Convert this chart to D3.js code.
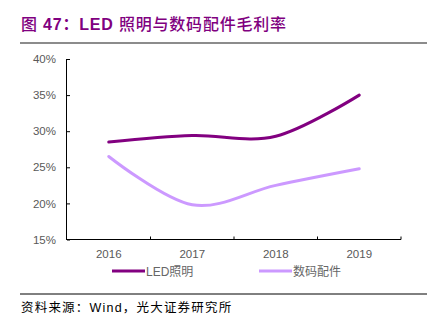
<!DOCTYPE html>
<html>
<head>
<meta charset="utf-8">
<script src="https://cdn.jsdelivr.net/npm/d3@7/dist/d3.min.js"></script>
<style>
  body { margin: 0; background: #fff; }
  svg { display: block; font-family: Arial, "Liberation Sans", "Noto Sans CJK SC", sans-serif; }
</style>
</head>
<body>
<div id="chart"></div>
<script>
const years = ['2016', '2017', '2018', '2019'];
const ledValues = [28.5, 29.4, 29.3, 35.0];
const digitalValues = [26.5, 19.8, 22.5, 24.8];
const yTicks = [15, 20, 25, 30, 35, 40];
const seriesNames = ['LED照明', '数码配件'];
const seriesColors = ['#820080', '#cc99ff'];

const width = 436, height = 324;
const svg = d3.select('#chart').append('svg')
    .attr('width', width)
    .attr('height', height);

// title: latin parts bold, CJK lighter
const titleParts = [['图 ', 500], ['47：LED ', 700], ['照明与数码配件毛利率', 500]];
const title = svg.append('text')
    .attr('x', 21).attr('y', 30)
    .attr('fill', '#800080')
    .attr('font-size', 16)
    .attr('letter-spacing', 0.8);
title.selectAll('tspan')
    .data(titleParts)
    .enter().append('tspan')
    .attr('font-weight', d => d[1])
    .text(d => d[0]);
svg.append('line')
    .attr('x1', 20).attr('x2', 427).attr('y1', 43).attr('y2', 43)
    .attr('stroke', '#8c8c8c').attr('stroke-width', 2);

const plot = { left: 67, right: 401, top: 59, bottom: 239.5 };

const x = d3.scaleBand().domain(years).range([plot.left, plot.right]);
const y = d3.scaleLinear().domain([15, 40]).range([plot.bottom, plot.top]);

// y axis
const yAxis = svg.append('g')
    .attr('transform', `translate(${plot.left},0)`)
    .call(d3.axisLeft(y).tickValues(yTicks).tickSize(-3).tickPadding(11).tickFormat(d => d + '%'));
yAxis.select('.domain').attr('d', `M-0.5,${plot.top}V${plot.bottom}`).attr('stroke', '#000');
yAxis.selectAll('.tick line').attr('stroke', '#000');
yAxis.selectAll('.tick text').attr('fill', '#595959').attr('font-size', 11.5).attr('font-family', 'Arial, "Liberation Sans"');

// x axis, ticks at category boundaries pointing inward
const xAxis = svg.append('g')
    .attr('transform', `translate(0,${plot.bottom})`);
xAxis.append('line')
    .attr('x1', plot.left - 1).attr('x2', plot.right)
    .attr('stroke', '#000');
xAxis.selectAll('.bt')
    .data(years)
    .enter().append('line')
    .attr('x1', d => x(d) + x.bandwidth())
    .attr('x2', d => x(d) + x.bandwidth())
    .attr('y1', 0).attr('y2', -3)
    .attr('stroke', '#000');
xAxis.selectAll('.lbl')
    .data(years)
    .enter().append('text')
    .attr('x', d => x(d) + x.bandwidth() / 2)
    .attr('y', 18.5)
    .attr('text-anchor', 'middle')
    .attr('fill', '#595959')
    .attr('font-size', 11.5)
    .text(d => d);

// lines
const line = d3.line()
    .x((d, i) => x(years[i]) + x.bandwidth() / 2)
    .y(d => y(d))
    .curve(d3.curveCatmullRom.alpha(0));

[ledValues, digitalValues].forEach((vals, i) => {
    svg.append('path')
        .datum(vals)
        .attr('d', line)
        .attr('fill', 'none')
        .attr('stroke', seriesColors[i])
        .attr('stroke-width', 3)
        .attr('stroke-linecap', 'round');
});

// legend
const legendX = [112, 259];
seriesNames.forEach((name, i) => {
    const g = svg.append('g').attr('transform', `translate(${legendX[i]},271)`);
    g.append('line')
        .attr('x1', 0).attr('x2', 33)
        .attr('stroke', seriesColors[i]).attr('stroke-width', 3);
    g.append('text')
        .attr('x', 34).attr('y', 4.5)
        .attr('fill', '#666')
        .attr('font-size', 12)
        .text(name);
});

// source
svg.append('line')
    .attr('x1', 20).attr('x2', 427).attr('y1', 294).attr('y2', 294)
    .attr('stroke', '#000').attr('stroke-width', 1);
svg.append('text')
    .attr('x', 21).attr('y', 311.5)
    .attr('fill', '#000')
    .attr('font-size', 12.5)
    .attr('letter-spacing', 1.2)
    .text('资料来源：Wind，光大证券研究所');
</script>
</body>
</html>
